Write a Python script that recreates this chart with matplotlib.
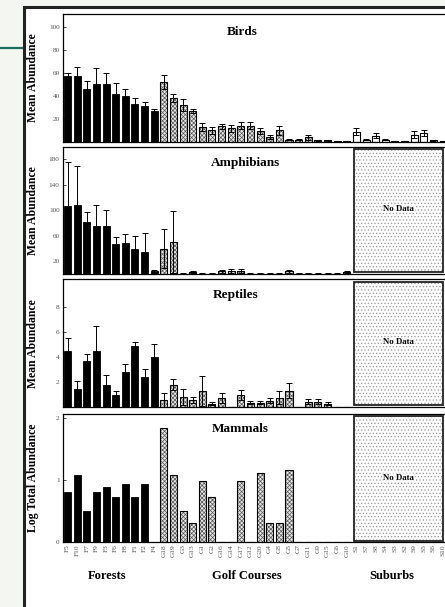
import numpy as np
import matplotlib
matplotlib.use('Agg')
import matplotlib.pyplot as plt
from matplotlib.patches import Rectangle
from matplotlib.lines import Line2D
from matplotlib.transforms import blended_transform_factory

plt.rcParams['font.family'] = ['Liberation Serif', 'DejaVu Serif']
plt.rcParams['hatch.linewidth'] = 0.5

# 站点顺序（森林、高尔夫球场、郊区）
forest_sites = ['F5', 'F10', 'F7', 'F9', 'F3', 'F6', 'F8', 'F1', 'F2', 'F4']
golf_sites = ['G18', 'G19', 'G3', 'G13', 'G1', 'G2', 'G16', 'G14', 'G17', 'G12',
              'G20', 'G4', 'G8', 'G5', 'G7', 'G11', 'G9', 'G15', 'G6', 'G10']
suburb_sites = ['S1', 'S7', 'S8', 'S4', 'S3', 'S2', 'S9', 'S5', 'S6', 'S10']
group_names = ['Forests', 'Golf Courses', 'Suburbs']

# Birds
birds_mean = [57, 57, 46, 50, 50, 42, 40, 33, 31, 27,
              52, 38, 32, 27, 13, 10, 13.5, 12, 14, 14,
              9.5, 4.5, 10, 2, 2, 4, 1.5, 1.5, 0.5, 0.5,
              9, 2, 5.5, 2, 0.5, 0.5, 6.5, 7.5, 1.5, 1]
birds_err = [3, 8, 7, 14, 10, 9, 6, 5, 4, 2,
             6, 3.5, 5, 2, 3.5, 3, 2.5, 3, 3, 3,
             2.5, 1.5, 4, 0.5, 0.5, 2, 0.5, 0.5, 0.3, 0.3,
             3, 0.5, 2, 0.5, 0.3, 0.3, 3, 2.7, 0.5, 0.3]

# Amphibians（郊区无数据）
amph_mean = [107, 109, 82, 75, 75, 47, 49, 40, 34, 4,
             40, 50, 0.5, 3, 0.5, 0.5, 4, 5, 5, 0.5,
             0.5, 0.5, 0.5, 4, 0.5, 0.5, 0.5, 0.5, 0.5, 3]
amph_err = [69, 60, 16, 34, 25, 11, 13, 19, 30, 2,
            30, 49, 0.3, 1.5, 0.3, 0.3, 3, 3, 3, 0.3,
            0.3, 0.3, 0.3, 2, 0.3, 0.3, 0.3, 0.3, 0.3, 1]

# Reptiles（郊区无数据）
rept_mean = [4.5, 1.46, 3.66, 4.5, 1.8, 0.95, 2.8, 4.85, 2.44, 4.0,
             0.58, 1.8, 0.8, 0.6, 1.27, 0.29, 0.76, 0, 0.98, 0.37,
             0.37, 0.53, 0.77, 1.3, 0, 0.45, 0.45, 0.3, 0.05, 0]
rept_err = [1.0, 0.6, 0.55, 2.0, 0.8, 0.37, 0.67, 0.37, 0.63, 1.03,
            0.53, 0.42, 0.63, 0.22, 1.2, 0.13, 0.38, 0, 0.4, 0.13,
            0.13, 0.18, 0.53, 0.6, 0, 0.19, 0.2, 0.13, 0, 0]

# Mammals（log 总丰度，无误差线）
mamm_log = [0.81, 1.08, 0.50, 0.81, 0.89, 0.73, 0.94, 0.73, 0.94, 0,
            1.85, 1.08, 0.50, 0.31, 0.99, 0.72, 0, 0, 0.99, 0,
            1.12, 0.31, 0.31, 1.16, 0, 0, 0, 0, 0, 0]

sites = forest_sites + golf_sites + suburb_sites
n_forest, n_golf = len(forest_sites), len(golf_sites)
W, H = 445, 607
XLIM = (-0.47, 39.47)
BAR_W = 0.73


def fig_rect(top, bottom, left=63, right=447.6):
    return [left / W, 1 - bottom / H, (right - left) / W, (bottom - top) / H]


def draw_bars(ax, mean, err=None):
    """按生境画柱：森林黑色、高尔夫点状填充、郊区白色"""
    mean = np.asarray(mean, dtype=float)
    x = np.arange(len(mean))
    f = slice(0, n_forest)
    g = slice(n_forest, n_forest + n_golf)
    s = slice(n_forest + n_golf, len(mean))
    ax.bar(x[f], mean[f], BAR_W, color='black', edgecolor='black', linewidth=0.6, zorder=2)
    ax.bar(x[g], mean[g], BAR_W, color='#e6e6e6', edgecolor='#555555', hatch='xxxxxxxx',
           linewidth=0, zorder=2)
    ax.bar(x[g], mean[g], BAR_W, color='none', edgecolor='black', linewidth=0.8, zorder=2)
    if len(mean) > n_forest + n_golf:
        ax.bar(x[s], mean[s], BAR_W, color='white', edgecolor='black', linewidth=0.8, zorder=2)
    if err is not None:
        ax.errorbar(x, mean, yerr=np.asarray(err, dtype=float), fmt='none', ecolor='black',
                    elinewidth=0.7, capsize=2.3, capthick=0.7, zorder=3)


def style_axis(ax, ylim, yticks, ylabel, title, title_pos):
    ax.set_xlim(*XLIM)
    ax.set_ylim(*ylim)
    ax.set_yticks(yticks)
    ax.set_yticklabels([str(t) for t in yticks], fontsize=5.2, color='#555555')
    ax.tick_params(axis='y', length=2, width=0.5, direction='in', pad=2.5)
    ax.tick_params(axis='x', length=0)
    ax.set_xticks([])
    for sp in ax.spines.values():
        sp.set_linewidth(0.9)
    ax.set_ylabel(ylabel, fontsize=8.5, fontweight='bold')
    ax.yaxis.set_label_coords(-24 / 384.6, 0.5)
    ax.text(title_pos[0], title_pos[1], title, transform=ax.transAxes, ha='center',
            va='center', fontsize=9.5, fontweight='bold')


def no_data_box(ax, y0, y1, ytext):
    trans = blended_transform_factory(ax.transData, ax.transAxes)
    ax.add_patch(Rectangle((29.8, y0), 9.2, y1 - y0, transform=trans, facecolor='white',
                           edgecolor='#999999', hatch='.....', linewidth=0, zorder=1))
    ax.add_patch(Rectangle((29.8, y0), 9.2, y1 - y0, transform=trans, facecolor='none',
                           edgecolor='#222222', linewidth=1.3, zorder=4))
    ax.text(34.4, ytext, 'No Data', transform=trans, ha='center', va='center',
            fontsize=6.3, fontweight='bold', zorder=5,
            bbox=dict(facecolor='white', edgecolor='none', pad=0.3, alpha=0.6))


fig = plt.figure(figsize=(W / 100, H / 100), dpi=100)
fig.patch.set_facecolor('#f4f6f1')

# 外框和左侧的绿色线
fig.patches.append(Rectangle((24 / W, -0.01), 1.0, 1 - 7 / H + 0.01, transform=fig.transFigure,
                             facecolor='white', edgecolor='#222222', linewidth=2.2, zorder=-10))
fig.lines.append(Line2D([0, 23 / W], [1 - 48 / H, 1 - 48 / H], transform=fig.transFigure,
                        color='#1b6e5c', linewidth=1.6, zorder=-10))

ax1 = fig.add_axes(fig_rect(14, 142))
draw_bars(ax1, birds_mean, birds_err)
style_axis(ax1, (0, 111.3), [20, 40, 60, 80, 100], 'Mean Abundance', 'Birds', (0.465, 0.862))

ax2 = fig.add_axes(fig_rect(147, 274))
draw_bars(ax2, amph_mean, amph_err)
style_axis(ax2, (0, 199.3), [20, 60, 100, 140, 180], 'Mean Abundance', 'Amphibians', (0.474, 0.872))
no_data_box(ax2, 0.013, 0.982, 0.512)

ax3 = fig.add_axes(fig_rect(279.3, 407.3))
draw_bars(ax3, rept_mean, rept_err)
style_axis(ax3, (0, 10.18), [2, 4, 6, 8], 'Mean Abundance', 'Reptiles', (0.449, 0.877))
no_data_box(ax3, 0.018, 0.981, 0.51)

ax4 = fig.add_axes(fig_rect(414, 541.7))
draw_bars(ax4, mamm_log)
style_axis(ax4, (0, 2.07), [0, 1, 2], 'Log Total Abundance', 'Mammals', (0.462, 0.88))
no_data_box(ax4, 0.008, 0.984, 0.5)
ax4.set_xticks(np.arange(len(sites)))
ax4.set_xticklabels(sites, rotation=90, fontsize=5.3, color='#555555')
ax4.tick_params(axis='x', length=0, pad=2)

# 生境分组标签
for name, px in zip(group_names, [106.7, 246.7, 391.7]):
    fig.text(px / W, 1 - 576 / H, name, ha='center', va='center', fontsize=9,
             fontweight='bold')

plt.savefig('out.png', dpi=100, facecolor=fig.get_facecolor())
plt.close()
